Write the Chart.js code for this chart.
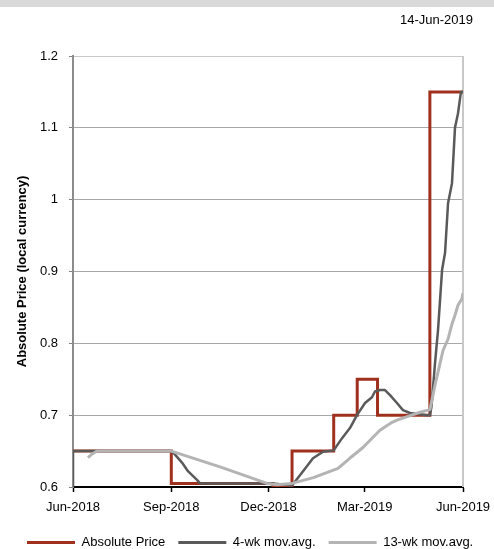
<!DOCTYPE html>
<html lang="en">
<head>
<meta charset="UTF-8">
<title>Absolute Price</title>
<script src="https://cdn.jsdelivr.net/npm/chart.js"></script>
<style>
  * { margin: 0; padding: 0; }
  body { width: 494px; height: 549px; background: #fff; position: relative; overflow: hidden; }
  #band { position: absolute; left: 0; top: 0; width: 494px; height: 7px; background: #d9d9d9; }
  #asof { position: absolute; right: 21px; top: 12px; font: 13px 'Liberation Sans', Arial, sans-serif; line-height: 16px; color: #000; }
</style>
</head>
<body>
<div id="band"></div>
<div id="asof">14-Jun-2019</div>
<canvas id="chart" width="494" height="549"></canvas>
<script>
// x = days since 14-Jun-2018
const tickDays = [0, 92, 183, 273, 365];
const tickLabels = ['Jun-2018', 'Sep-2018', 'Dec-2018', 'Mar-2019', 'Jun-2019'];

// absolute price, step changes (value holds from that day on)
const priceDays = [0, 92, 187, 205, 244, 266, 285, 334, 365];
const priceVals = [0.65, 0.605, 0.6, 0.65, 0.7, 0.75, 0.7, 1.15, 1.15];

// 4-week moving average
const avg4Days = [0, 0, 92, 95.5, 102, 107.6, 116, 119, 187, 205, 215.3, 224.6, 234, 244,
  251.8, 259.2, 265.8, 273.3, 279.8, 282.6, 287.3, 292, 296.7, 303.2, 308.8, 315.4, 331.3, 334.1,
  335.5, 338.8, 341.6, 345.4, 348.2, 351, 354.7, 357.5, 360.3, 363.1, 365];
const avg4Vals = [0.6, 0.65, 0.65, 0.645, 0.634, 0.622, 0.61, 0.605, 0.605, 0.602, 0.622, 0.64, 0.649, 0.651,
  0.668, 0.682, 0.70, 0.717, 0.725, 0.733, 0.735, 0.735, 0.728, 0.717, 0.707, 0.703, 0.70, 0.70,
  0.712, 0.772, 0.818, 0.902, 0.926, 0.995, 1.023, 1.10, 1.12, 1.15, 1.15];

// 13-week moving average
const avg13Days = [14, 18, 22.5, 92, 137.6, 181.6, 191, 205, 225, 248, 259, 271.4, 278, 287.3,
  298.6, 303.2, 310.7, 324.8, 332.2, 334.1, 338.8, 343.5, 346.3, 351, 354.7, 357.5, 360.3, 364, 365];
const avg13Vals = [0.641, 0.646, 0.65, 0.65, 0.628, 0.605, 0.603, 0.605, 0.613, 0.626, 0.64, 0.655, 0.665, 0.679,
  0.69, 0.693, 0.697, 0.704, 0.707, 0.708, 0.742, 0.772, 0.79, 0.806, 0.827, 0.839, 0.853, 0.862, 0.87];

const pts = (xs, ys) => xs.map((x, i) => ({ x: x, y: ys[i] }));

Chart.defaults.font.family = "'Liberation Sans', Arial, sans-serif";
Chart.defaults.font.size = 13;
Chart.defaults.color = '#000';

const rightBorder = {
  id: 'rightBorder',
  beforeDatasetsDraw(chart) {
    const { ctx, chartArea: a } = chart;
    ctx.save();
    ctx.strokeStyle = '#c8c8c8';
    ctx.lineWidth = 2;
    ctx.beginPath();
    ctx.moveTo(a.right, a.top);
    ctx.lineTo(a.right, a.bottom);
    ctx.stroke();
    ctx.restore();
  }
};

new Chart(document.getElementById('chart'), {
  type: 'line',
  data: {
    datasets: [
      {
        label: 'Absolute Price',
        data: pts(priceDays, priceVals),
        borderColor: '#a0301e',
        backgroundColor: '#a0301e',
        borderWidth: 3,
        stepped: 'before',
        pointRadius: 0,
        order: 3
      },
      {
        label: '4-wk mov.avg.',
        data: pts(avg4Days, avg4Vals),
        borderColor: '#5a5a5a',
        backgroundColor: '#5a5a5a',
        borderWidth: 2.5,
        borderJoinStyle: 'round',
        pointRadius: 0,
        order: 2
      },
      {
        label: '13-wk mov.avg.',
        data: pts(avg13Days, avg13Vals),
        borderColor: '#b4b4b4',
        backgroundColor: '#b4b4b4',
        borderWidth: 3,
        borderJoinStyle: 'round',
        pointRadius: 0,
        order: 1
      }
    ]
  },
  plugins: [rightBorder],
  options: {
    responsive: false,
    animation: false,
    layout: { padding: { left: 14, right: 0, top: 56, bottom: -10 } },
    plugins: {
      title: { display: false },
      tooltip: { enabled: false },
      legend: {
        position: 'bottom',
        align: 'start',
        labels: {
          boxWidth: 48,
          boxHeight: 3,
          padding: 13,
          sort: (a, b) => a.datasetIndex - b.datasetIndex,
          generateLabels(chart) {
            return Chart.defaults.plugins.legend.labels.generateLabels(chart).map(l => {
              l.lineWidth = 0;
              l.fillStyle = chart.data.datasets[l.datasetIndex].borderColor;
              return l;
            });
          }
        }
      }
    },
    scales: {
      x: {
        type: 'linear',
        min: 0,
        max: 365,
        afterBuildTicks(scale) {
          scale.ticks = tickDays.map(v => ({ value: v }));
        },
        afterFit(scale) {
          scale.height = 36;
          scale.paddingRight = 31;
        },
        ticks: {
          autoSkip: false,
          maxRotation: 0,
          padding: 8,
          callback: (v) => tickLabels[tickDays.indexOf(v)]
        },
        grid: { drawOnChartArea: false, drawTicks: true, tickLength: 5, tickColor: '#000', tickWidth: 1.5 },
        border: { color: '#000', width: 2 }
      },
      y: {
        min: 0.6,
        max: 1.2,
        afterFit(scale) { scale.width = 59; },
        ticks: {
          stepSize: 0.1,
          padding: 11,
          callback: (v) => String(Number(v.toFixed(1)))
        },
        title: {
          display: true,
          text: 'Absolute Price (local currency)',
          font: { weight: 'bold', size: 13 },
          padding: { top: 0.2, bottom: 0 }
        },
        grid: {
          color: (c) => (c.tick && Math.abs(c.tick.value - 1.2) < 1e-6) ? '#c8c8c8' : '#a8a8a8',
          tickLength: 4,
          tickColor: '#808080'
        },
        border: { color: '#8c8c8c', width: 2 }
      }
    }
  }
});
</script>
</body>
</html>
